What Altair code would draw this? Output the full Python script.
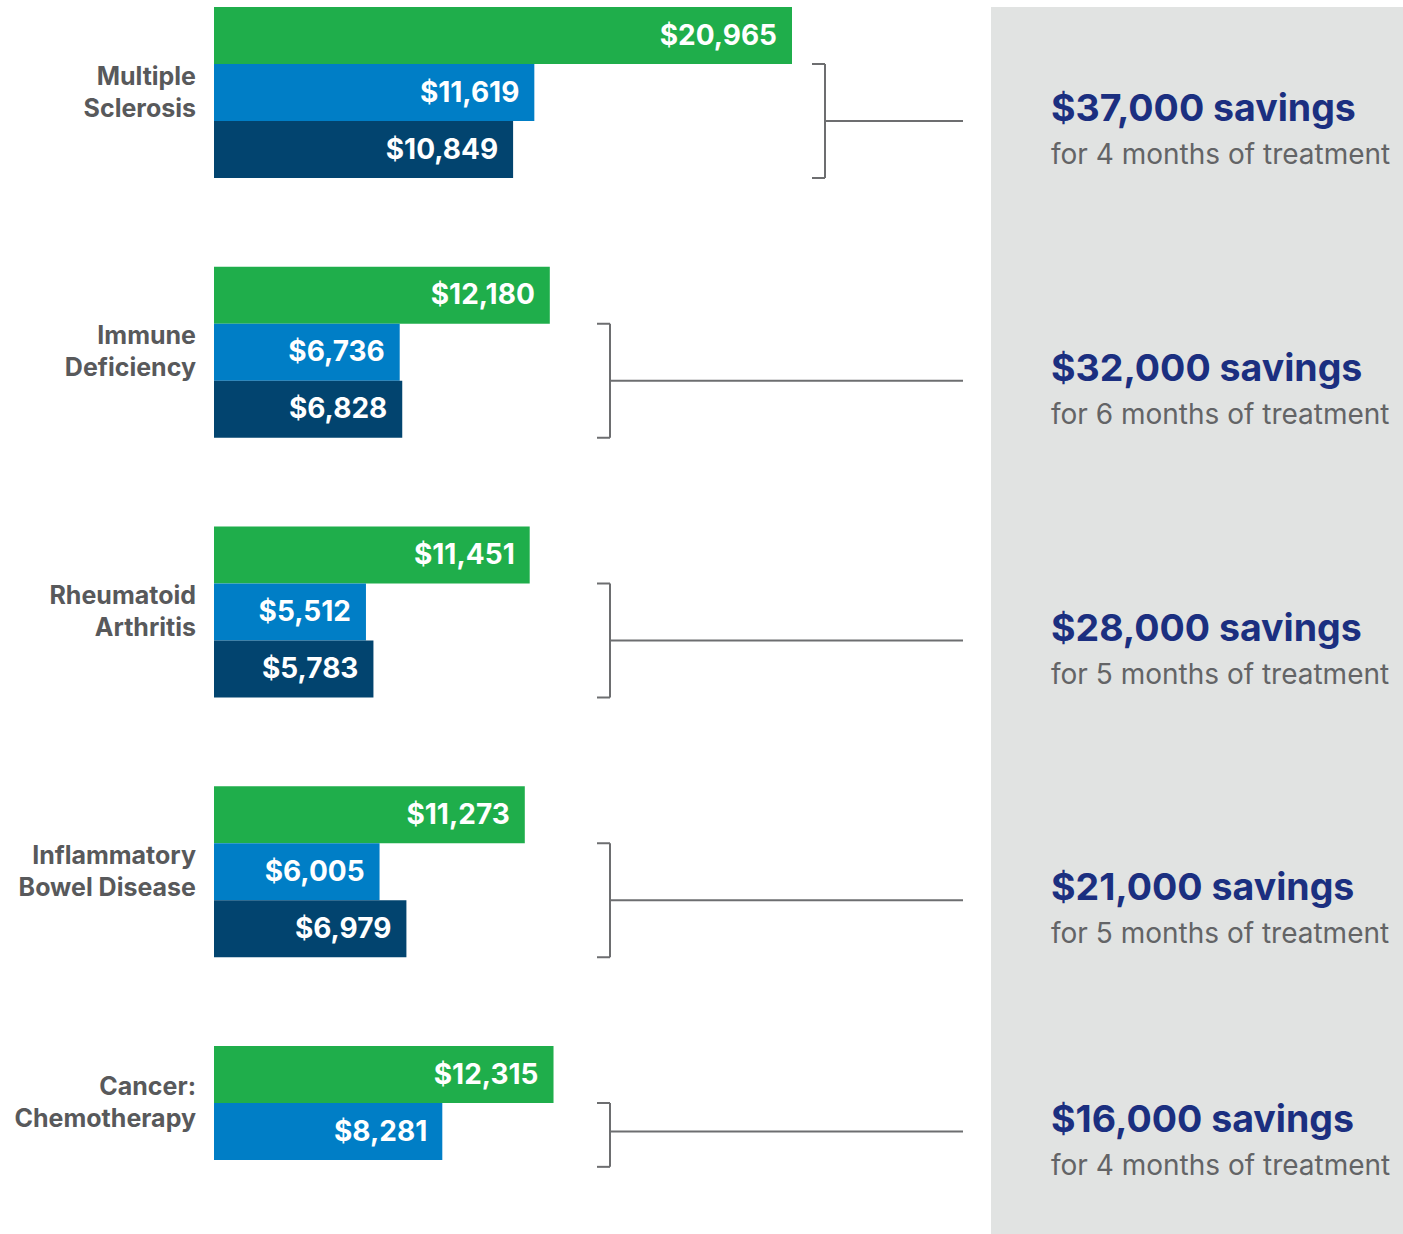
import altair as alt
import pandas as pd

# ---- data ----
CATEGORIES = ["Multiple\nSclerosis", "Immune\nDeficiency", "Rheumatoid\nArthritis",
              "Inflammatory\nBowel Disease", "Cancer:\nChemotherapy"]
SERIES = ["Series 1", "Series 2", "Series 3"]
SERIES_1 = [20965, 12180, 11451, 11273, 12315]
SERIES_2 = [11619, 6736, 5512, 6005, 8281]
SERIES_3 = [10849, 6828, 5783, 6979, None]
SAVINGS = ["$37,000 savings", "$32,000 savings", "$28,000 savings",
           "$21,000 savings", "$16,000 savings"]
MONTHS = [4, 6, 5, 5, 4]

COLORS = ["#1fae4b", "#007ec6", "#02446f"]

# ---- layout ----
W, H = 1403, 1234
TOP = 7
PITCH = 259.75
BAR_H = 57
PX0 = 214
K = 578 / 20965  # px per dollar
BRACKET_X = [825, 610, 610, 610, 610]
BRACKET_SPANS = [(1, 3, 2), (1, 3, 2), (1, 3, 2), (1, 3, 2), (1, 2.12, 1.5)]
LINE_END = 963

rows = []
for g, cat in enumerate(CATEGORIES):
    for s, vals in enumerate([SERIES_1, SERIES_2, SERIES_3]):
        v = vals[g]
        if v is None:
            continue
        top = TOP + g * PITCH + s * BAR_H
        rows.append(dict(category=cat, series=SERIES[s], value=v, base=0,
                         y=top, y2=top + BAR_H, ymid=top + BAR_H / 2))
bars_df = pd.DataFrame(rows)

grp = []
for g, cat in enumerate(CATEGORIES):
    n = sum(1 for vals in [SERIES_1, SERIES_2, SERIES_3] if vals[g] is not None)
    gtop = TOP + g * PITCH
    t, b, m = BRACKET_SPANS[g]
    grp.append(dict(category=cat, center=gtop + n * BAR_H / 2,
                    bx=BRACKET_X[g], sx=BRACKET_X[g] - 13, ex=LINE_END,
                    btop=gtop + t * BAR_H, bbot=gtop + b * BAR_H, bmid=gtop + m * BAR_H,
                    savings=SAVINGS[g],
                    sub=f"for {MONTHS[g]} months of treatment"))
grp_df = pd.DataFrame(grp)

yscale = alt.Scale(domain=[0, H], reverse=True, nice=False, zero=False)
dscale = alt.Scale(domain=[-PX0 / K, (W - PX0) / K], nice=False, zero=False)
pscale = alt.Scale(domain=[0, W], nice=False, zero=False)

FONT = "Inter"

panel = alt.Chart(pd.DataFrame({"a": [0]})).mark_rect(color="#e1e3e2").encode(
    x=alt.value(991), x2=alt.value(W), y=alt.value(7), y2=alt.value(H))

bars = alt.Chart(bars_df).mark_rect().encode(
    x=alt.X("value:Q", scale=dscale, axis=None),
    x2="base:Q",
    y=alt.Y("y:Q", scale=yscale, axis=None),
    y2="y2:Q",
    color=alt.Color("series:N", scale=alt.Scale(domain=SERIES, range=COLORS), legend=None),
)

bar_labels = alt.Chart(bars_df).mark_text(
    align="right", baseline="middle", dx=-15, dy=1, color="white",
    font=FONT, fontSize=28, fontWeight="bold").encode(
    x=alt.X("value:Q", scale=dscale, axis=None),
    y=alt.Y("ymid:Q", scale=yscale, axis=None),
    text=alt.Text("value:Q", format="$,.0f"),
)

cat_labels = alt.Chart(grp_df).mark_text(
    align="right", baseline="middle", lineBreak="\n", lineHeight=32, dy=-16,
    font=FONT, fontSize=25, fontWeight="bold", color="#58595b").encode(
    x=alt.value(196),
    y=alt.Y("center:Q", scale=yscale, axis=None),
    text="category:N",
)

BR = dict(color="#6d6e70", strokeWidth=2)
vert = alt.Chart(grp_df).mark_rule(**BR).encode(
    x=alt.X("bx:Q", scale=pscale, axis=None),
    y=alt.Y("btop:Q", scale=yscale, axis=None), y2="bbot:Q")
serif_top = alt.Chart(grp_df).mark_rule(**BR).encode(
    x=alt.X("sx:Q", scale=pscale, axis=None), x2="bx:Q",
    y=alt.Y("btop:Q", scale=yscale, axis=None))
serif_bot = alt.Chart(grp_df).mark_rule(**BR).encode(
    x=alt.X("sx:Q", scale=pscale, axis=None), x2="bx:Q",
    y=alt.Y("bbot:Q", scale=yscale, axis=None))
connector = alt.Chart(grp_df).mark_rule(**BR).encode(
    x=alt.X("bx:Q", scale=pscale, axis=None), x2="ex:Q",
    y=alt.Y("bmid:Q", scale=yscale, axis=None))

sav_title = alt.Chart(grp_df).mark_text(
    align="left", baseline="middle", dy=-11, font=FONT, fontSize=37.5,
    fontWeight="bold", color="#1b2f80").encode(
    x=alt.value(1051),
    y=alt.Y("bmid:Q", scale=yscale, axis=None),
    text="savings:N")
sav_sub = alt.Chart(grp_df).mark_text(
    align="left", baseline="middle", dy=35, font=FONT, fontSize=28,
    color="#636466").encode(
    x=alt.value(1051),
    y=alt.Y("bmid:Q", scale=yscale, axis=None),
    text="sub:N")

chart = alt.layer(
    panel, bars, bar_labels, cat_labels, vert, serif_top, serif_bot, connector,
    sav_title, sav_sub
).resolve_scale(x="independent").properties(
    width=W, height=H, padding=0,
    autosize=alt.AutoSizeParams(type="none"),
    background="white",
).configure_view(stroke=None)

chart.save("out.html", embed_options={"renderer": "svg", "actions": False})
